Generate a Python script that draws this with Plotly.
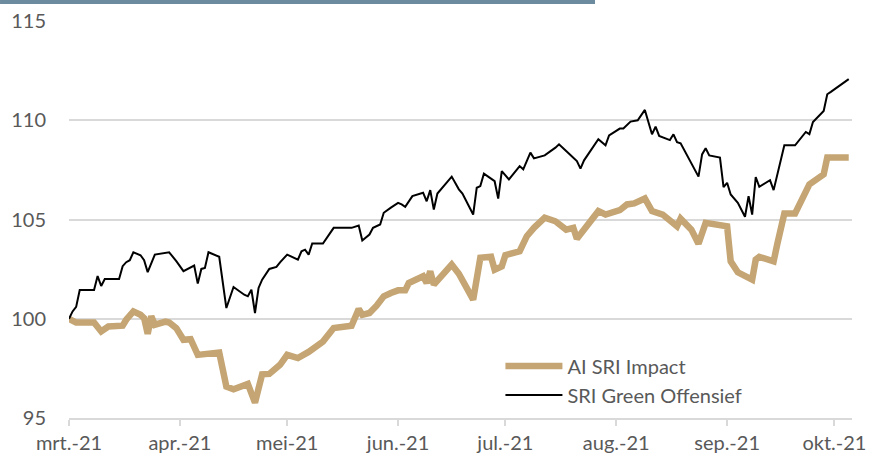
import plotly.graph_objects as go

# AI SRI Impact (thick gold line)
impact_dates = ["2021-03-01","2021-03-03","2021-03-08","2021-03-10","2021-03-12","2021-03-15","2021-03-16","2021-03-17",
    "2021-03-19","2021-03-21","2021-03-22","2021-03-23","2021-03-24","2021-03-25","2021-03-28","2021-03-29","2021-03-31",
    "2021-04-02","2021-04-04","2021-04-06","2021-04-12","2021-04-14","2021-04-16","2021-04-20","2021-04-22","2021-04-24",
    "2021-04-26","2021-04-29","2021-05-01","2021-05-04","2021-05-07","2021-05-11","2021-05-14","2021-05-19","2021-05-21",
    "2021-05-22","2021-05-24","2021-05-26","2021-05-28","2021-05-30","2021-06-01","2021-06-03","2021-06-04","2021-06-08",
    "2021-06-09","2021-06-10","2021-06-11","2021-06-16","2021-06-18","2021-06-22","2021-06-23","2021-06-24","2021-06-27",
    "2021-06-28","2021-06-30","2021-07-01","2021-07-05","2021-07-07","2021-07-09","2021-07-12","2021-07-15","2021-07-18",
    "2021-07-20","2021-07-21","2021-07-27","2021-07-29","2021-08-02","2021-08-04","2021-08-06","2021-08-09","2021-08-11",
    "2021-08-14","2021-08-18","2021-08-19","2021-08-22","2021-08-24","2021-08-26","2021-08-29","2021-09-01","2021-09-02",
    "2021-09-04","2021-09-08","2021-09-09","2021-09-10","2021-09-14","2021-09-15","2021-09-17","2021-09-20","2021-09-21",
    "2021-09-22","2021-09-24","2021-09-28","2021-09-29","2021-10-05"]
impact_values = [100.0,99.81,99.81,99.36,99.61,99.7,99.65,99.95,
    100.37,100.2,100.03,99.24,100.13,99.7,99.86,99.81,99.53,
    98.94,98.97,98.18,98.3,96.58,96.45,96.72,95.77,97.2,
    97.22,97.68,98.18,98.02,98.33,98.85,99.53,99.65,100.49,
    100.2,100.29,100.66,101.13,101.3,101.43,101.43,101.8,102.14,
    101.8,102.39,101.72,102.73,102.27,100.96,102.14,103.07,103.12,
    102.47,102.64,103.2,103.4,104.16,104.58,105.09,104.91,104.49,
    104.58,104.03,105.42,105.25,105.47,105.76,105.81,106.06,105.42,
    105.25,104.66,105.04,104.49,103.78,104.83,104.71,104.66,102.89,
    102.34,101.97,102.98,103.12,102.89,103.74,105.3,105.3,105.67,
    106.18,106.77,107.27,108.12,108.12]

# SRI Green Offensief (thin black line)
green_dates = ["2021-03-01","2021-03-02","2021-03-03","2021-03-04","2021-03-08","2021-03-09","2021-03-10","2021-03-11",
    "2021-03-15","2021-03-16","2021-03-17","2021-03-18","2021-03-19","2021-03-21","2021-03-22","2021-03-23","2021-03-25",
    "2021-03-29","2021-03-31","2021-04-02","2021-04-05","2021-04-06","2021-04-07","2021-04-08","2021-04-09","2021-04-12",
    "2021-04-14","2021-04-16","2021-04-19","2021-04-20","2021-04-21","2021-04-22","2021-04-23","2021-04-24","2021-04-26",
    "2021-04-28","2021-04-29","2021-05-01","2021-05-04","2021-05-05","2021-05-06","2021-05-07","2021-05-08","2021-05-11",
    "2021-05-14","2021-05-19","2021-05-21","2021-05-22","2021-05-24","2021-05-25","2021-05-27","2021-05-28","2021-05-30",
    "2021-06-01","2021-06-02","2021-06-03","2021-06-05","2021-06-08","2021-06-09","2021-06-10","2021-06-11","2021-06-12",
    "2021-06-16","2021-06-18","2021-06-19","2021-06-22","2021-06-23","2021-06-24","2021-06-25","2021-06-28","2021-06-29",
    "2021-06-30","2021-07-02","2021-07-05","2021-07-06","2021-07-08","2021-07-09","2021-07-12","2021-07-15","2021-07-16",
    "2021-07-18","2021-07-21","2021-07-22","2021-07-23","2021-07-27","2021-07-29","2021-07-30","2021-08-02","2021-08-03",
    "2021-08-05","2021-08-07","2021-08-09","2021-08-11","2021-08-12","2021-08-13","2021-08-16","2021-08-17","2021-08-18",
    "2021-08-19","2021-08-24","2021-08-25","2021-08-26","2021-08-27","2021-08-30","2021-08-31","2021-09-01","2021-09-02",
    "2021-09-04","2021-09-06","2021-09-07","2021-09-08","2021-09-09","2021-09-10","2021-09-13","2021-09-14","2021-09-17",
    "2021-09-20","2021-09-23","2021-09-24","2021-09-25","2021-09-28","2021-09-29","2021-09-30","2021-10-05"]
green_values = [100.0,100.37,100.6,101.45,101.45,102.15,101.65,102.0,
    102.0,102.65,102.85,102.95,103.35,103.2,102.95,102.35,103.23,
    103.35,102.9,102.4,102.68,101.77,102.51,102.56,103.35,103.12,
    100.54,101.6,101.21,101.13,101.46,100.29,101.55,101.97,102.51,
    102.61,102.84,103.23,102.98,103.4,103.48,103.23,103.79,103.79,
    104.58,104.58,104.7,103.94,104.24,104.58,104.75,105.34,105.6,
    105.84,105.76,105.64,106.18,106.35,105.92,106.48,105.5,106.31,
    107.16,106.52,106.31,105.25,106.6,106.68,107.31,106.93,106.05,
    107.44,107.02,107.69,107.53,108.37,108.08,108.23,108.62,108.79,
    108.45,107.94,107.56,107.98,109.04,108.74,109.24,109.58,109.58,
    109.93,110.0,110.52,109.29,109.68,109.21,109.0,109.29,108.9,
    108.84,107.16,108.28,108.59,108.23,108.12,106.63,106.85,106.26,
    105.84,105.14,106.18,105.25,107.14,106.65,106.98,106.48,108.74,
    108.74,109.41,109.3,109.91,110.47,111.31,111.43,112.07]

tick_dates = ["2021-03-01","2021-04-01","2021-05-01","2021-06-01","2021-07-01","2021-08-01","2021-09-01","2021-10-01"]
tick_labels = ["mrt.-21","apr.-21","mei-21","jun.-21","jul.-21","aug.-21","sep.-21","okt.-21"]
y_ticks = [95, 100, 105, 110, 115]

FONT = "Lato"
FS = 20
LABEL_COLOR = "#595959"
GRID = "#D9D9D9"

fig = go.Figure()
fig.add_trace(go.Scatter(x=impact_dates, y=impact_values, mode="lines", name="AI SRI Impact",
                         line=dict(color="#C4A573", width=6.5)))
fig.add_trace(go.Scatter(x=green_dates, y=green_values, mode="lines", name="SRI Green Offensief",
                         line=dict(color="#000000", width=2)))

fig.update_layout(
    width=874, height=462,
    margin=dict(l=69, r=22, t=21, b=44, autoexpand=False),
    paper_bgcolor="white", plot_bgcolor="white",
    font=dict(family=FONT, size=FS, color=LABEL_COLOR),
    showlegend=True,
    hovermode=False,
    legend=dict(x=0.551, y=0.18, xanchor="left", yanchor="top",
                bgcolor="rgba(0,0,0,0)", font=dict(family=FONT, size=FS, color=LABEL_COLOR),
                tracegroupgap=0, itemwidth=57),
    xaxis=dict(type="date", range=["2021-03-01", "2021-10-05 22:00"], automargin=False,
               tickvals=tick_dates, ticktext=tick_labels,
               showgrid=False, showline=True, linecolor=GRID, linewidth=2,
               ticks="outside", ticklen=6, tickcolor=GRID, tickwidth=2,
               tickfont=dict(family=FONT, size=FS, color=LABEL_COLOR), zeroline=False),
    yaxis=dict(range=[95, 115], tickvals=y_ticks, showgrid=True, gridcolor=GRID, gridwidth=2,
               automargin=False, zeroline=False, showline=False, ticks="", ticklabelstandoff=22,
               tickfont=dict(family=FONT, size=FS, color=LABEL_COLOR)),
    shapes=[dict(type="rect", xref="paper", yref="paper",
                 x0=-0.0881, x1=0.6718, y0=1.0428, y1=1.06,
                 fillcolor="#6D8B9E", line=dict(width=0), layer="above")],
)

fig.write_html("out.html", config={"displayModeBar": False, "staticPlot": True},
               post_script="document.body.style.margin='0px';document.body.style.padding='0px';")
